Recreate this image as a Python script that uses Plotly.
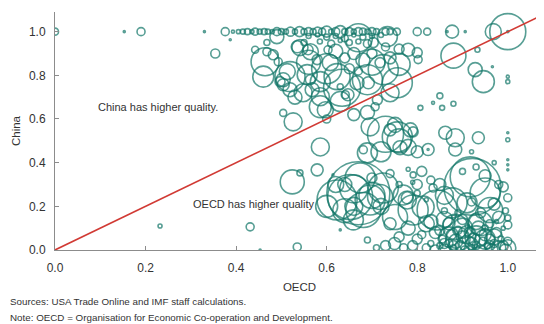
import plotly.graph_objects as go

# Top row (China quality = 1.0) and upper cluster
oecd_top = [0.0, 0.153, 0.19, 0.33, 0.376, 0.393, 0.405, 0.415, 0.425, 0.435, 0.442, 0.452, 0.462, 0.47, 0.48,
            0.49, 0.50, 0.51, 0.52, 0.53, 0.54, 0.55, 0.56, 0.57, 0.58, 0.59, 0.60, 0.61, 0.62, 0.63, 0.64, 0.65,
            0.66, 0.67, 0.68, 0.69, 0.70, 0.71, 0.73, 0.74, 0.755, 0.80, 0.822, 0.866, 0.877, 0.906, 0.968, 1.0, 1.0,
            0.56, 0.58, 0.60, 0.62, 0.64, 0.66, 0.68, 0.70, 0.72,
            0.55, 0.585, 0.61, 0.63, 0.65, 0.67, 0.69]
china_top = [1.0, 1.0, 1.0, 1.0, 1.0, 1.0, 1.0, 1.0, 1.0, 1.0, 1.0, 1.0, 1.0, 1.0, 1.0,
             1.0, 1.0, 1.0, 1.0, 1.0, 1.0, 1.0, 1.0, 1.0, 1.0, 1.0, 1.0, 1.0, 1.0, 1.0, 1.0, 1.0,
             1.0, 1.0, 1.0, 1.0, 1.0, 1.0, 1.0, 1.0, 1.0, 1.0, 1.0, 1.0, 1.0, 1.0, 1.0, 1.0, 1.0,
             0.98, 0.985, 0.975, 0.98, 0.97, 0.985, 0.975, 0.98, 0.985,
             0.95, 0.955, 0.945, 0.96, 0.95, 0.955, 0.945]
size_top = [7, 2, 8, 2, 8, 3, 4, 5, 6, 4, 7, 5, 6, 5, 4,
            8, 6, 5, 9, 5, 10, 6, 8, 6, 9, 7, 11, 5, 8, 12, 6, 8,
            5, 8, 7, 5, 8, 6, 7, 6, 7, 8, 7, 2, 13, 2, 16, 36, 2,
            5, 4, 6, 5, 7, 4, 6, 5, 5,
            6, 5, 7, 4, 6, 5, 8]

oecd_up = [0.354, 0.387, 0.442, 0.468, 0.482, 0.464, 0.46, 0.468, 0.49, 0.493, 0.504, 0.519, 0.564, 0.548,
           0.586, 0.597, 0.535, 0.559, 0.608, 0.579, 0.603, 0.623, 0.634, 0.647, 0.67, 0.69, 0.725, 0.734,
           0.78, 0.80, 0.802, 0.703, 0.718, 0.712, 0.692, 0.756, 0.513, 0.541, 0.564, 0.557, 0.586, 0.497,
           0.504, 0.519, 0.568, 0.586, 0.504, 0.526, 0.586, 0.707, 0.85, 0.835, 0.807, 0.855, 0.88, 0.88,
           0.933, 0.928, 0.946, 0.966, 1.0, 1.0, 0.62, 0.64, 0.66, 0.68, 0.70, 0.74, 0.76, 0.65, 0.73, 0.67,
           0.63, 0.66, 0.60, 0.69, 0.667, 0.63, 0.641,
           0.56, 0.70, 0.60, 0.76, 0.53, 0.74]
china_up = [0.90, 0.963, 0.917, 0.908, 0.894, 0.862, 0.794, 0.95, 0.977, 0.862, 0.78, 0.794, 0.78, 0.72,
            0.656, 0.642, 0.931, 0.917, 0.858, 0.872, 0.917, 0.794, 0.743, 0.711, 0.972, 0.78, 0.826, 0.977,
            0.917, 0.904, 0.872, 0.95, 0.858, 0.688, 0.766, 0.766, 0.817, 0.927, 0.908, 0.803, 0.771, 0.771,
            0.757, 0.734, 0.734, 0.702, 0.628, 0.587, 0.472, 0.656, 0.706, 0.674, 0.651, 0.651, 0.67, 0.89,
            0.917, 0.826, 0.771, 0.839, 0.794, 0.771, 0.91, 0.88, 0.90, 0.87, 0.90, 0.88, 0.92, 0.83, 0.93, 0.82,
            0.68, 0.62, 0.60, 0.63, 0.766, 0.748, 0.711,
            0.86, 0.86, 0.83, 0.85, 0.70, 0.72]
size_up = [9, 2, 7, 8, 10, 28, 21, 6, 14, 8, 14, 30, 10, 18,
           22, 16, 12, 10, 16, 10, 8, 26, 37, 12, 28, 30, 30, 20,
           13, 10, 8, 10, 10, 10, 12, 30, 16, 16, 16, 20, 20, 10,
           12, 14, 14, 18, 7, 18, 18, 8, 6, 3, 5, 5, 5, 25,
           5, 14, 22, 2, 3, 4, 14, 10, 12, 14, 10, 12, 10, 10, 8, 8,
           20, 12, 8, 14, 14, 6, 8,
           24, 26, 30, 22, 14, 18]

# Middle cluster
oecd_mid = [0.696, 0.751, 0.756, 0.74, 0.785, 0.791, 0.73, 0.76, 0.862, 0.884, 0.884, 0.824, 0.824, 0.92,
            0.935, 1.0, 1.0, 0.681, 0.72, 0.78, 0.80, 0.69, 0.762]
china_mid = [0.564, 0.573, 0.518, 0.55, 0.55, 0.541, 0.53, 0.50, 0.537, 0.514, 0.46, 0.46, 0.46, 0.45,
             0.514, 0.537, 0.505, 0.459, 0.45, 0.47, 0.45, 0.445, 0.468]
size_mid = [18, 15, 30, 12, 14, 10, 36, 24, 13, 18, 13, 12, 2, 4,
            12, 2, 4, 8, 20, 16, 12, 20, 14]

# Lower cluster
oecd_low = [0.579, 0.524, 0.541, 0.614, 0.67, 0.623, 0.652, 0.681, 0.696, 0.718, 0.659, 0.63, 0.69, 0.751,
            0.778, 0.791, 0.813, 0.844, 0.877, 0.884, 0.91, 0.922, 0.917, 0.95, 0.961, 0.99, 1.0, 1.0, 1.0,
            1.0, 1.0, 1.0, 0.535, 0.453, 0.431, 0.232, 0.791, 0.835, 0.725, 0.778, 0.769, 0.674,
            0.64, 0.66, 0.60, 0.62, 0.70, 0.74, 0.72, 0.74, 0.76, 0.78, 0.80, 0.82, 0.80, 0.85, 0.86, 0.84, 0.86,
            0.82, 0.83, 0.84, 0.85, 0.855, 0.86, 0.87, 0.875, 0.88, 0.885, 0.89, 0.895, 0.90, 0.905, 0.91,
            0.915, 0.92, 0.925, 0.93, 0.935, 0.94, 0.945, 0.95, 0.955, 0.96, 0.965, 0.97, 0.975, 0.98, 0.985,
            0.99, 0.995, 1.0, 1.0, 0.87, 0.90, 0.93, 0.96, 0.98, 0.85, 0.83, 0.81, 0.79, 0.77, 0.75, 0.73,
            0.71, 0.89, 0.94, 0.92, 0.97, 0.995, 0.95, 0.91, 0.88, 0.86, 0.99, 0.975,
            0.80, 0.82, 0.79, 0.83, 0.81, 0.78, 0.76, 0.90, 0.95, 0.97, 0.98, 0.93,
            0.87, 0.89, 0.91, 0.93, 0.95, 0.97, 0.88, 0.92, 0.96, 0.90, 0.94, 0.86, 0.66, 0.64, 0.70]
china_low = [0.367, 0.312, 0.353, 0.344, 0.26, 0.229, 0.243, 0.183, 0.229, 0.243, 0.138, 0.092, 0.046, 0.151,
             0.229, 0.183, 0.197, 0.183, 0.216, 0.106, 0.216, 0.289, 0.335, 0.261, 0.183, 0.289, 0.239, 0.147,
             0.115, 0.413, 0.39, 0.367, 0.014, 0.0, 0.106, 0.11, 0.344, 0.284, 0.284, 0.239, 0.252, 0.33,
             0.30, 0.20, 0.20, 0.30, 0.33, 0.35, 0.20, 0.12, 0.06, 0.10, 0.05, 0.12, 0.30, 0.30, 0.25, 0.08, 0.03,
             0.01, 0.03, 0.0, 0.02, 0.05, 0.0, 0.03, 0.07, 0.01, 0.04, 0.09, 0.02, 0.06, 0.0, 0.03,
             0.08, 0.01, 0.05, 0.02, 0.10, 0.0, 0.04, 0.07, 0.02, 0.05, 0.0, 0.03, 0.08, 0.01, 0.05,
             0.02, 0.0, 0.01, 0.04, 0.12, 0.14, 0.13, 0.12, 0.15, 0.09, 0.13, 0.07, 0.02, 0.01, 0.03, 0.02,
             0.01, 0.17, 0.17, 0.22, 0.21, 0.18, 0.10, 0.11, 0.15, 0.18, 0.10, 0.13,
             0.26, 0.23, 0.31, 0.32, 0.36, 0.37, 0.30, 0.36, 0.34, 0.40, 0.30, 0.38,
             0.06, 0.05, 0.07, 0.06, 0.05, 0.06, 0.02, 0.03, 0.02, 0.10, 0.12, 0.14, 0.28, 0.18, 0.25]
size_low = [12, 24, 6, 2, 63, 40, 45, 35, 30, 25, 20, 2, 6, 25,
            18, 30, 22, 40, 30, 25, 20, 57, 40, 30, 25, 10, 8, 6,
            8, 2, 2, 2, 8, 2, 8, 4, 6, 8, 30, 12, 20, 30,
            14, 18, 22, 16, 10, 8, 16, 12, 10, 14, 10, 16, 10, 12, 18, 12, 10,
            8, 6, 10, 6, 8, 12, 8, 10, 6, 14, 8, 10, 12, 8, 16,
            10, 6, 12, 8, 14, 10, 8, 12, 6, 10, 12, 8, 10, 14, 6,
            10, 12, 16, 8, 12, 10, 16, 8, 12, 10, 14, 8, 10, 8, 12, 10,
            6, 6, 10, 8, 12, 6, 6, 4, 4, 6, 4, 4,
            6, 4, 4, 8, 10, 4, 6, 6, 12, 4, 8, 6,
            20, 24, 18, 22, 20, 16, 10, 12, 10, 20, 24, 16, 28, 24, 26]

oecd = oecd_top + oecd_up + oecd_mid + oecd_low
china = china_top + china_up + china_mid + china_low
sizes = size_top + size_up + size_mid + size_low

diag = [0.0, 1.08]

teal = "#0f7566"
fig = go.Figure()
fig.add_trace(go.Scatter(
    x=oecd, y=china, mode="markers",
    marker=dict(symbol="circle-open", size=sizes, sizemode="diameter",
                color=teal, line=dict(color=teal, width=1.6)),
    hoverinfo="skip", showlegend=False))
fig.add_trace(go.Scatter(x=diag, y=diag, mode="lines",
                         line=dict(color="#d13a34", width=1.6), showlegend=False))

font = "Liberation Sans, Arial, sans-serif"
axis_common = dict(showgrid=False, zeroline=False, showline=True, linecolor="#8c8c8c", linewidth=1,
                   ticks="inside", ticklen=4, tickcolor="#8c8c8c", automargin=False,
                   tickfont=dict(family=font, size=12, color="#333333"))
fig.update_xaxes(range=[0, 1.08], tickvals=[0, 0.2, 0.4, 0.6, 0.8, 1.0], tickformat=".1f",
                 ticklabelstandoff=7,
                 title=dict(text="OECD", font=dict(family=font, size=11.5, color="#333333"), standoff=8),
                 **axis_common)
fig.update_yaxes(range=[0, 1.09], tickvals=[0, 0.2, 0.4, 0.6, 0.8, 1.0], tickformat=".1f",
                 ticklabelstandoff=6,
                 title=dict(text="China", font=dict(family=font, size=11.5, color="#333333"), standoff=5),
                 **axis_common)

fig.add_annotation(x=0.09, y=0.656, text="China has higher quality.", showarrow=False,
                   xanchor="left", yanchor="middle", font=dict(family=font, size=11, color="#333333"))
fig.add_annotation(x=0.30, y=0.21, text="OECD has higher quality", showarrow=False,
                   xanchor="left", yanchor="middle", font=dict(family=font, size=11, color="#333333"))
fig.add_annotation(xref="paper", yref="paper", x=-0.096, y=-0.218,
                   text="Sources: USA Trade Online and IMF staff calculations.", showarrow=False,
                   xanchor="left", yanchor="middle", font=dict(family=font, size=9.8, color="#333333"))
fig.add_annotation(xref="paper", yref="paper", x=-0.096, y=-0.282,
                   text="Note: OECD = Organisation for Economic Co-operation and Development.", showarrow=False,
                   xanchor="left", yanchor="middle", font=dict(family=font, size=9.8, color="#333333"))

fig.update_layout(width=536, height=316, margin=dict(l=47, r=0, t=4, b=74),
                  paper_bgcolor="white", plot_bgcolor="white")
fig.write_html("out.html")
